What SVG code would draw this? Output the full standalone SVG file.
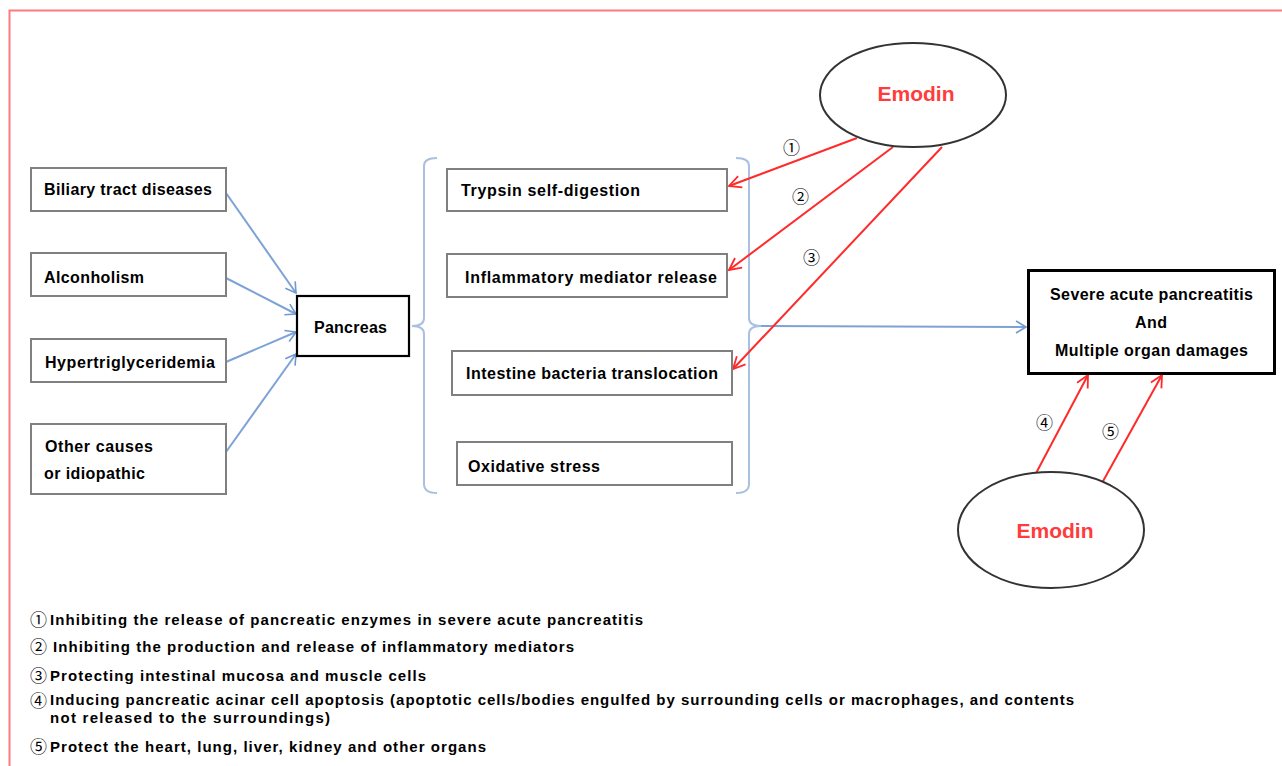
<svg xmlns="http://www.w3.org/2000/svg" width="1282" height="766" viewBox="0 0 1282 766">
<defs>
<marker id="ab" markerWidth="14" markerHeight="14" refX="12" refY="7" orient="auto" markerUnits="userSpaceOnUse">
<path d="M2,1 L12,7 L2,13" fill="none" stroke="#6f99d0" stroke-width="1.6"/>
</marker>
<marker id="ar" markerWidth="16" markerHeight="16" refX="14" refY="8" orient="auto" markerUnits="userSpaceOnUse">
<path d="M2,2 L14,8 L2,14" fill="none" stroke="#ff2a2a" stroke-width="1.8"/>
</marker>
<style>
.box{fill:#fff;stroke:#808080;stroke-width:2}
.bbox{fill:#fff;stroke:#000;stroke-width:2.2}
.t{font-family:"Liberation Sans",Arial,sans-serif;font-weight:bold;font-size:16px;fill:#000}
.l{font-family:"Liberation Sans",Arial,sans-serif;font-weight:bold;font-size:15px;fill:#000}
.em{font-family:"Liberation Sans",Arial,sans-serif;font-weight:bold;font-size:21px;fill:#ff3b3b}
.ell{fill:#fff;stroke:#333;stroke-width:2}
.blue{fill:none;stroke:#7ea2d6;stroke-width:2}
.red{fill:none;stroke:#ff2a2a;stroke-width:2}
.brace{fill:none;stroke:#a9c0e0;stroke-width:2}
.num{font-family:"Liberation Serif","Noto Sans CJK JP","DejaVu Serif",serif;font-size:17px;fill:#000}
</style>
</defs>
<rect x="0" y="0" width="1282" height="766" fill="#fff"/>
<path d="M9.5,766 V10.5 H1282" fill="none" stroke="#ff7b7b" stroke-width="2"/>

<g id="connectors">
<line class="blue" x1="226" y1="193" x2="296" y2="293" marker-end="url(#ab)"/>
<line class="blue" x1="226" y1="278" x2="296" y2="314" marker-end="url(#ab)"/>
<line class="blue" x1="226" y1="362" x2="296" y2="332" marker-end="url(#ab)"/>
<line class="blue" x1="226" y1="452" x2="296" y2="354" marker-end="url(#ab)"/>
<path class="brace" d="M437,158 Q424,158 424,166 V318 Q424,326 412,326 Q424,326 424,334 V484 Q424,493 437,493"/>
<path class="brace" d="M736,158 Q749,158 749,166 V318 Q749,326 761,326 Q749,326 749,334 V484 Q749,493 736,493"/>
<line class="blue" x1="761" y1="326" x2="1026" y2="327" marker-end="url(#ab)"/>
<line class="red" x1="857" y1="138" x2="729" y2="186" marker-end="url(#ar)"/>
<line class="red" x1="893" y1="147" x2="729" y2="270" marker-end="url(#ar)"/>
<line class="red" x1="942" y1="147" x2="733" y2="369" marker-end="url(#ar)"/>
<line class="red" x1="1034" y1="477" x2="1088" y2="375" marker-end="url(#ar)"/>
<line class="red" x1="1102" y1="483" x2="1162" y2="375" marker-end="url(#ar)"/>
<text class="num" x="783" y="154">①</text>
<text class="num" x="792" y="203">②</text>
<text class="num" x="803" y="264">③</text>
<text class="num" x="1036" y="429">④</text>
<text class="num" x="1102" y="438">⑤</text>
</g>

<g id="biliary"><rect class="box" x="31" y="168" width="195" height="43"/><text class="t" x="44" y="195" textLength="168" lengthAdjust="spacing">Biliary tract diseases</text></g>
<g id="alcohol"><rect class="box" x="31" y="253" width="195" height="43"/><text class="t" x="44" y="283" textLength="100" lengthAdjust="spacing">Alconholism</text></g>
<g id="hyper"><rect class="box" x="31" y="339" width="195" height="43"/><text class="t" x="45" y="368" textLength="170" lengthAdjust="spacing">Hypertriglyceridemia</text></g>
<g id="other"><rect class="box" x="31" y="424" width="195" height="70"/><text class="t" x="45" y="452" textLength="108" lengthAdjust="spacing">Other causes</text><text class="t" x="44" y="479" textLength="101" lengthAdjust="spacing">or idiopathic</text></g>
<g id="pancreas"><rect class="bbox" x="297" y="296" width="112" height="60"/><text class="t" x="314" y="333" textLength="73" lengthAdjust="spacing">Pancreas</text></g>

<g id="trypsin"><rect class="box" x="447" y="169" width="280" height="42"/><text class="t" x="461" y="196" textLength="179" lengthAdjust="spacing">Trypsin self-digestion</text></g>
<g id="inflam"><rect class="box" x="447" y="254" width="280" height="43"/><text class="t" x="465" y="283" textLength="252" lengthAdjust="spacing">Inflammatory mediator release</text></g>
<g id="intestine"><rect class="box" x="452" y="351" width="280" height="44"/><text class="t" x="466" y="379" textLength="252" lengthAdjust="spacing">Intestine bacteria translocation</text></g>
<g id="oxid"><rect class="box" x="457" y="442" width="275" height="43"/><text class="t" x="468" y="472" textLength="132" lengthAdjust="spacing">Oxidative stress</text></g>

<g id="sap"><rect x="1028.5" y="270.5" width="246" height="103" fill="#fff" stroke="#000" stroke-width="3"/>
<text class="t" x="1050" y="300" textLength="203" lengthAdjust="spacing">Severe acute pancreatitis</text>
<text class="t" x="1135" y="328" textLength="32" lengthAdjust="spacing">And</text>
<text class="t" x="1055" y="356" textLength="193" lengthAdjust="spacing">Multiple organ damages</text></g>

<g id="emodin1"><ellipse class="ell" cx="913" cy="95" rx="93" ry="52"/><text class="em" x="916" y="101" text-anchor="middle">Emodin</text></g>
<g id="emodin2"><ellipse class="ell" cx="1051" cy="530" rx="93" ry="58"/><text class="em" x="1055" y="538" text-anchor="middle">Emodin</text></g>

<g id="legend">
<text class="num" x="30" y="626">①</text><text class="l" x="50" y="625" textLength="593" lengthAdjust="spacing">Inhibiting the release of pancreatic enzymes in severe acute pancreatitis</text>
<text class="num" x="30" y="653">②</text><text class="l" x="53" y="652" textLength="521" lengthAdjust="spacing">Inhibiting the production and release of inflammatory mediators</text>
<text class="num" x="30" y="682">③</text><text class="l" x="50" y="681" textLength="376" lengthAdjust="spacing">Protecting intestinal mucosa and muscle cells</text>
<text class="num" x="30" y="707">④</text><text class="l" x="50" y="705" textLength="1024" lengthAdjust="spacing">Inducing pancreatic acinar cell apoptosis (apoptotic cells/bodies engulfed by surrounding cells or macrophages, and contents</text>
<text class="l" x="50" y="723" textLength="280" lengthAdjust="spacing">not released to the surroundings)</text>
<text class="num" x="30" y="753">⑤</text><text class="l" x="50" y="752" textLength="436" lengthAdjust="spacing">Protect the heart, lung, liver, kidney and other organs</text>
</g>
</svg>
